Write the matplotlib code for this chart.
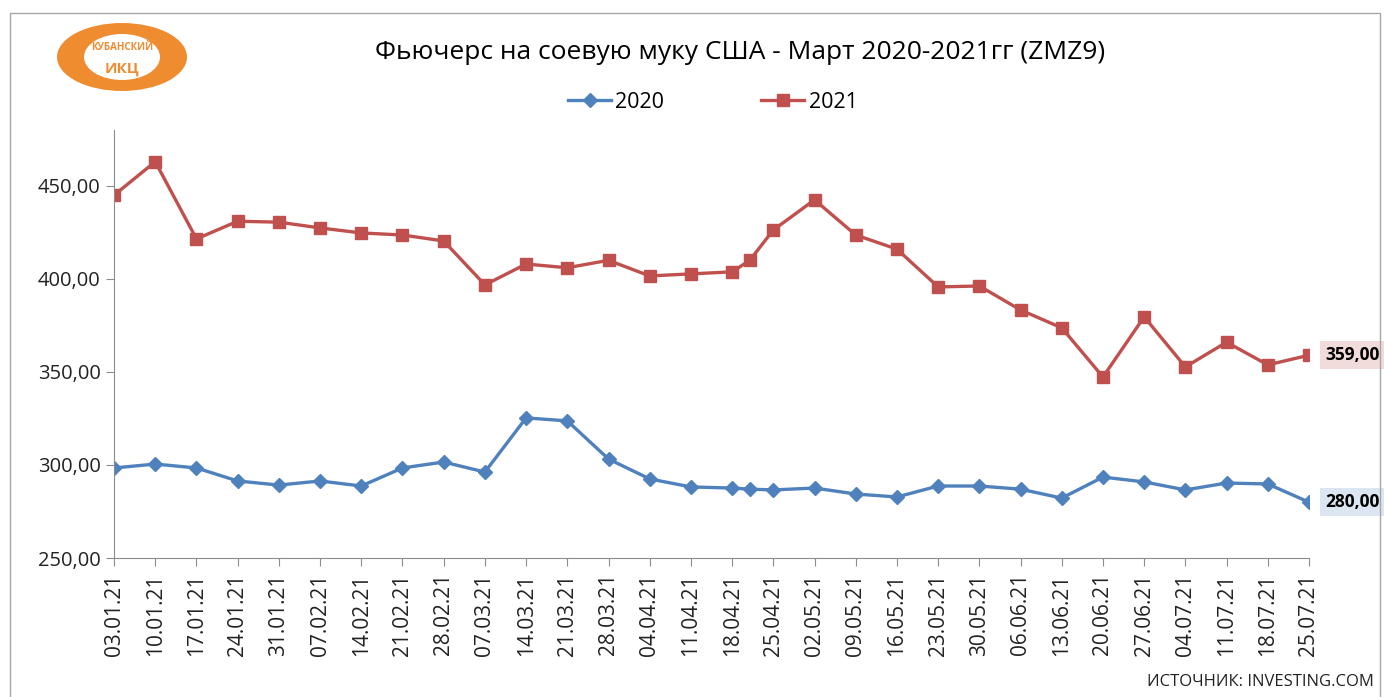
import numpy as np
import matplotlib
matplotlib.use('Agg')
import matplotlib.pyplot as plt
import matplotlib.dates as mdates
from matplotlib.patches import Ellipse, Rectangle
import datetime as dt

plt.rcParams['font.family'] = ['Open Sans', 'DejaVu Sans']

# data
dates = ['03.01.21', '10.01.21', '17.01.21', '24.01.21', '31.01.21', '07.02.21',
         '14.02.21', '21.02.21', '28.02.21', '07.03.21', '14.03.21', '21.03.21',
         '28.03.21', '04.04.21', '11.04.21', '18.04.21', '21.04.21', '25.04.21',
         '02.05.21', '09.05.21', '16.05.21', '23.05.21', '30.05.21', '06.06.21',
         '13.06.21', '20.06.21', '27.06.21', '04.07.21', '11.07.21', '18.07.21',
         '25.07.21']
y2020 = [298.4, 300.5, 298.4, 291.4, 289.2, 291.4, 288.7, 298.4, 301.6, 296.2,
         325.3, 323.7, 303.2, 292.5, 288.2, 287.6, 287.0, 286.6, 287.6, 284.4,
         282.8, 288.7, 288.7, 287.0, 282.2, 293.5, 290.9, 286.6, 290.3, 289.8,
         280.0]
y2021 = [445.0, 463.0, 421.5, 431.0, 430.5, 427.4, 424.7, 423.6, 420.4, 396.8,
         408.0, 406.0, 410.0, 401.6, 402.7, 403.8, 410.0, 426.3, 442.5, 423.6,
         416.0, 395.7, 396.2, 383.3, 373.7, 347.3, 379.6, 352.7, 366.0, 353.8,
         359.0]

x = [dt.datetime.strptime(d, '%d.%m.%y') for d in dates]
# weekly ticks (the 21.04 point has no tick)
ticks = [d for d in x if d.weekday() == 6]

blue = '#4F81BD'
red = '#C0504D'

fig = plt.figure(figsize=(13.84, 6.97), dpi=100)
ax = fig.add_axes([0.0824, 0.1994, 0.8634, 0.614])

ax.plot(x, y2020, color=blue, lw=2.4, marker='D', ms=7.5, label='2020')
ax.plot(x, y2021, color=red, lw=2.4, marker='s', ms=9, label='2021')

ax.set_ylim(250, 480)
ax.set_yticks([250, 300, 350, 400, 450])
ax.set_yticklabels(['%d,00' % v for v in [250, 300, 350, 400, 450]], fontsize=14.5)
ax.set_xlim(x[0], x[-1])
ax.set_xticks(ticks)
ax.xaxis.set_major_formatter(mdates.DateFormatter('%d.%m.%y'))
plt.setp(ax.get_xticklabels(), rotation=90, fontsize=15)

for s in ['top', 'right']:
    ax.spines[s].set_visible(False)
for s in ['left', 'bottom']:
    ax.spines[s].set_color('#8c8c8c')
ax.tick_params(axis='both', colors='#8c8c8c', labelcolor='#222222', length=6)
ax.tick_params(axis='x', pad=5)

ax.annotate('359,00', (x[-1], y2021[-1]), xytext=(12, 0), textcoords='offset points',
            va='center', ha='left', fontsize=12.5, fontweight='bold', annotation_clip=False,
            bbox=dict(boxstyle='square,pad=0.3', fc='#F2DCDB', ec='none'))
ax.annotate('280,00', (x[-1], y2020[-1]), xytext=(12, 0), textcoords='offset points',
            va='center', ha='left', fontsize=12.5, fontweight='bold', annotation_clip=False,
            bbox=dict(boxstyle='square,pad=0.3', fc='#DCE6F2', ec='none'))

fig.text(0.535, 0.925, 'Фьючерс на соевую муку США - Март 2020-2021гг (ZMZ9)',
         ha='center', va='center', fontsize=19)
fig.legend(loc='center', bbox_to_anchor=(0.515, 0.853), ncol=2, frameon=False,
           fontsize=15.5, columnspacing=4.5, handlelength=2.0, handletextpad=0.2)

fig.text(0.993, 0.01, 'ИСТОЧНИК: INVESTING.COM', ha='right', va='bottom', fontsize=12,
         color='#222222')

# outer border
fig.patches.append(Rectangle((10 / 1384, -0.05), 1370 / 1384, 1.05 - 13 / 697,
                             transform=fig.transFigure, fill=False, ec='#a6a6a6', lw=1))

# logo
lx, ly = 122 / 1384, 1 - 57 / 697
fig.patches.append(Ellipse((lx, ly), 130 / 1384, 68 / 697, transform=fig.transFigure,
                           fc='#F08C30', ec='none'))
fig.patches.append(Ellipse((lx, ly), 76 / 1384, 46 / 697, transform=fig.transFigure,
                           fc='white', ec='none'))
fig.text(lx, ly + 0.013, 'КУБАНСКИЙ', ha='center', va='center', fontsize=7,
         fontweight='bold', color='#F08C30')
fig.text(lx, ly - 0.017, 'ИКЦ', ha='center', va='center', fontsize=11,
         fontweight='bold', color='#F08C30')

fig.savefig('out.png', dpi=100)
